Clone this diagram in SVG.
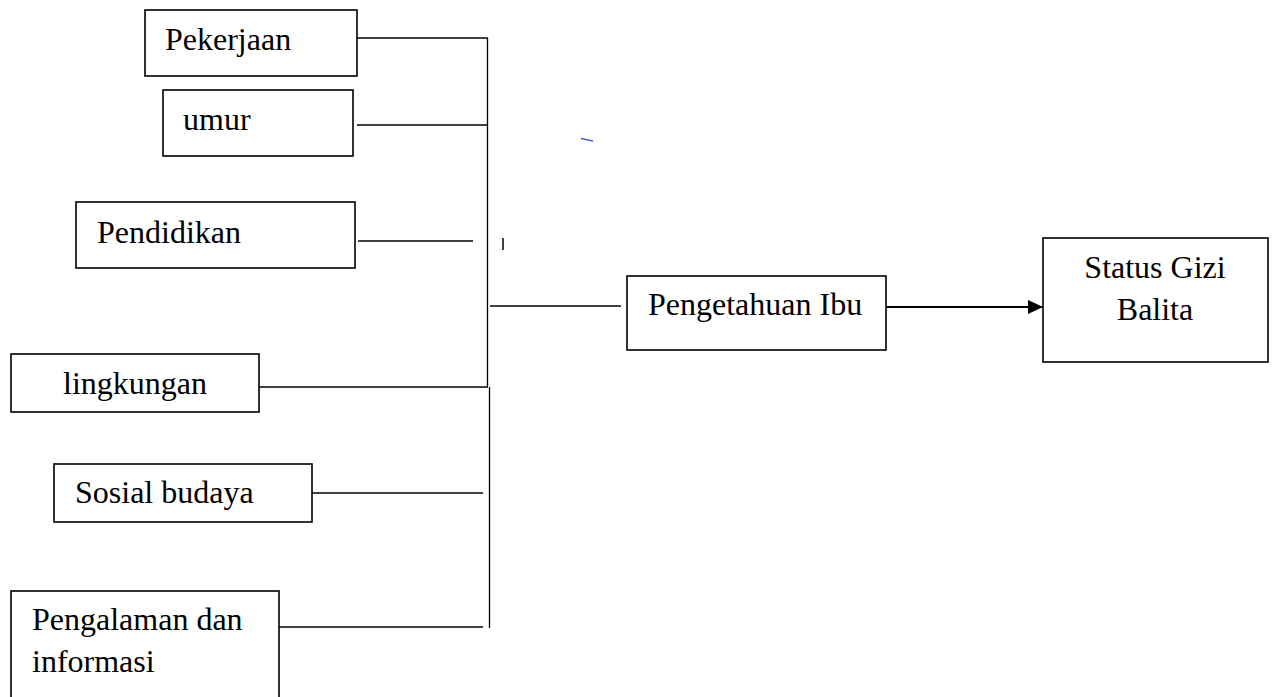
<svg xmlns="http://www.w3.org/2000/svg" width="1273" height="697" viewBox="0 0 1273 697">
  <style>
    .box { fill: #ffffff; stroke: #000000; stroke-width: 1.6; }
    .lbl { font-family: "Liberation Serif", "Times New Roman", serif; font-size: 32px; fill: #000000; }
    .wire { stroke: #000000; stroke-width: 1.3; fill: none; }
    .arrow { stroke: #000000; stroke-width: 2.2; fill: none; }
  </style>
  <defs>
    <marker id="head" markerWidth="16" markerHeight="14" refX="15" refY="7" orient="auto" markerUnits="userSpaceOnUse">
      <path d="M0,0 L15,7 L0,14 Z" fill="#000000"/>
    </marker>
  </defs>
  <rect width="1273" height="697" fill="#ffffff"/>

  <!-- connectors -->
  <g id="connectors">
    <line class="wire" x1="357" y1="38" x2="488" y2="38"/>
    <line class="wire" x1="357" y1="125" x2="488" y2="125"/>
    <line class="wire" x1="358" y1="241" x2="473" y2="241"/>
    <line class="wire" x1="259" y1="387" x2="488" y2="387"/>
    <line class="wire" x1="312" y1="493" x2="483" y2="493"/>
    <line class="wire" x1="279" y1="627" x2="483" y2="627"/>
    <line class="wire" x1="487.5" y1="38" x2="487.5" y2="387"/>
    <line class="wire" x1="489.5" y1="387" x2="489.5" y2="628"/>
    <line class="wire" x1="490" y1="306" x2="621" y2="306"/>
    <line class="arrow" x1="886" y1="307" x2="1043" y2="307" marker-end="url(#head)"/>
    <!-- small stray strokes -->
    <line x1="503" y1="238" x2="503" y2="250" stroke="#000000" stroke-width="1.5"/>
    <line x1="581" y1="138.5" x2="593" y2="141" stroke="#3a64d0" stroke-width="1.3"/>
  </g>

  <g id="pekerjaan">
    <rect class="box" x="145" y="10" width="212" height="66"/>
    <text class="lbl" x="165" y="50">Pekerjaan</text>
  </g>
  <g id="umur">
    <rect class="box" x="163" y="90" width="190" height="66"/>
    <text class="lbl" x="183" y="130">umur</text>
  </g>
  <g id="pendidikan">
    <rect class="box" x="76" y="202" width="279" height="66"/>
    <text class="lbl" x="97" y="243">Pendidikan</text>
  </g>
  <g id="lingkungan">
    <rect class="box" x="11" y="354" width="248" height="58"/>
    <text class="lbl" x="63" y="394">lingkungan</text>
  </g>
  <g id="sosial-budaya">
    <rect class="box" x="54" y="464" width="258" height="58"/>
    <text class="lbl" x="75" y="503">Sosial budaya</text>
  </g>
  <g id="pengalaman">
    <rect class="box" x="11" y="591" width="268" height="120"/>
    <text class="lbl" x="32" y="630">Pengalaman dan</text>
    <text class="lbl" x="32" y="672">informasi</text>
  </g>
  <g id="pengetahuan-ibu">
    <rect class="box" x="627" y="276" width="259" height="74"/>
    <text class="lbl" x="648" y="315">Pengetahuan Ibu</text>
  </g>
  <g id="status-gizi">
    <rect class="box" x="1043" y="238" width="225" height="124"/>
    <text class="lbl" x="1155" y="278" text-anchor="middle">Status Gizi</text>
    <text class="lbl" x="1155" y="320" text-anchor="middle">Balita</text>
  </g>
</svg>
